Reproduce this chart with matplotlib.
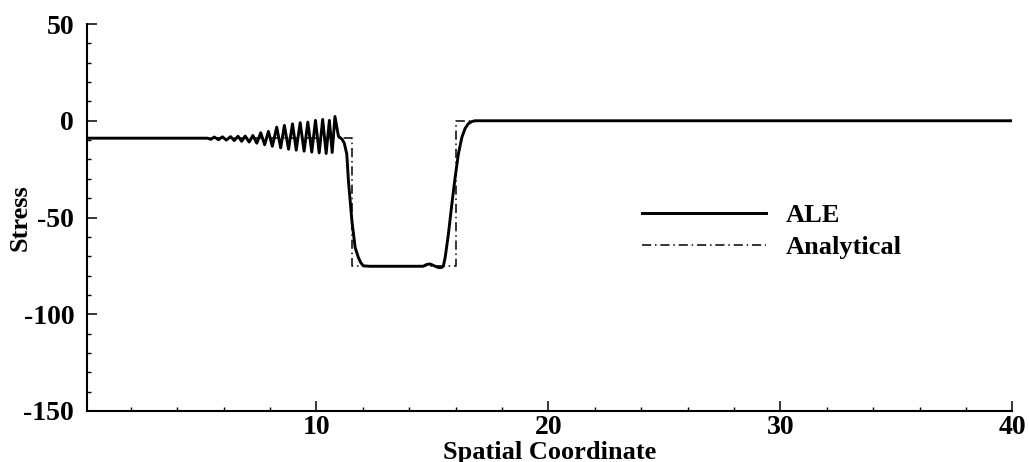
import matplotlib
matplotlib.use("Agg")
import matplotlib.pyplot as plt
from matplotlib.ticker import MultipleLocator

# ---- data ----
ale_x = [0.1, 5.3, 5.45, 5.6, 5.78, 5.95, 6.12, 6.3, 6.46, 6.62, 6.78, 6.93, 7.1, 7.26,
         7.43, 7.6, 7.77, 7.93, 8.1, 8.29, 8.46, 8.62, 8.8, 8.97, 9.13, 9.3, 9.47,
         9.63, 9.8, 9.96, 10.12, 10.27, 10.42, 10.56, 10.68, 10.8, 10.95, 11.1, 11.2,
         11.31, 11.38, 11.53, 11.67, 11.81, 11.92, 12.03, 12.3, 14.6, 14.75, 14.9,
         15.05, 15.2, 15.3, 15.4, 15.47, 15.55, 15.69, 15.84, 15.98, 16.12, 16.27,
         16.41, 16.55, 16.7, 16.84, 40.0]
ale_y = [-9.0, -9.0, -9.6, -8.4, -9.8, -8.3, -10.0, -8.2, -10.2, -8.0, -10.6, -7.9, -11.0, -7.6,
         -11.6, -6.2, -12.4, -5.5, -13.2, -3.3, -14.0, -2.4, -14.7, -1.6, -15.2, -1.0, -15.7,
         -0.7, -16.2, 0.2, -16.6, 0.7, -16.9, 0.2, -16.4, 2.2, -8.0, -9.5, -11.5,
         -17.2, -31.0, -51.7, -65.5, -70.7, -73.5, -75.0, -75.2, -75.2, -74.3, -74.0,
         -74.8, -75.6, -75.9, -75.8, -75.2, -70.7, -58.6, -43.0, -29.3, -17.2, -8.6,
         -4.0, -1.5, -0.4, 0.0, 0.0]

ana_x = [0.1, 11.53, 11.53, 16.02, 16.02, 40.0]
ana_y = [-9.0, -9.0, -75.0, -75.0, 0.0, 0.0]

x_ticks = [10, 20, 30, 40]
y_ticks = [50, 0, -50, -100, -150]
series_labels = ["ALE", "Analytical"]

plt.rcParams['font.family'] = ['Liberation Serif', 'DejaVu Serif']
plt.rcParams['font.weight'] = 'bold'
plt.rcParams['axes.unicode_minus'] = False

fig = plt.figure(figsize=(10.29, 4.62), dpi=100)
ax = fig.add_axes([0.0843, 0.1104, 0.8995, 0.8376])

ax.plot(ale_x, ale_y, color='black', lw=2.1, label=series_labels[0],
        solid_joinstyle='round')
ax.plot(ana_x, ana_y, color='black', lw=1.1, linestyle=(0, (6, 2.5, 1, 2.5)),
        label=series_labels[1])

ax.set_xlim(0.1, 40)
ax.set_ylim(-150, 50)
ax.set_xticks(x_ticks)
ax.set_yticks(y_ticks)
ax.xaxis.set_minor_locator(MultipleLocator(2))
ax.yaxis.set_minor_locator(MultipleLocator(10))

for s in ['top', 'right']:
    ax.spines[s].set_visible(False)
for s in ['left', 'bottom']:
    ax.spines[s].set_linewidth(1.5)

ax.tick_params(axis='both', which='major', direction='in', length=7, width=1.1,
               labelsize=20)
ax.tick_params(axis='both', which='minor', direction='in', length=3, width=1.0)
ax.tick_params(axis='y', which='major', pad=9)
ax.tick_params(axis='x', which='major', pad=3)
for lbl in ax.get_xticklabels() + ax.get_yticklabels():
    lbl.set_fontweight('bold')

ax.set_xlabel('Spatial Coordinate', fontsize=19, fontweight='bold')
ax.set_ylabel('Stress', fontsize=19, fontweight='bold')
# place axis labels in figure pixel positions (via axes fraction)
W, H = 1029.0, 462.0
ax_l, ax_b, ax_w, ax_h = 0.0843 * W, 0.1104 * H, 0.8995 * W, 0.8376 * H
ax.xaxis.set_label_coords(0.5, (H - 452 - ax_b) / ax_h)
ax.xaxis.label.set_va('center')
ax.yaxis.set_label_coords((20 - ax_l) / ax_w, 0.5)
ax.yaxis.label.set_ha('center')
ax.yaxis.label.set_va('center')

leg = ax.legend(loc='upper left', bbox_to_anchor=(0.6, 0.535), frameon=False,
                fontsize=19, handlelength=4.7, handletextpad=0.75,
                labelspacing=0.3, borderaxespad=0, borderpad=0)
for t in leg.get_texts():
    t.set_fontweight('bold')

fig.savefig('out.png', dpi=100)
